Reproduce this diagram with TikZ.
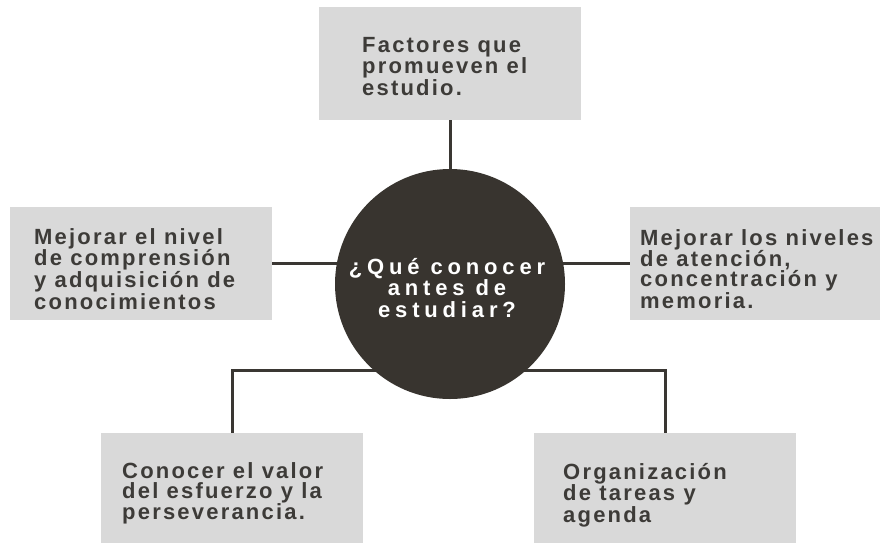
\documentclass[tikz,border=0pt]{standalone}
\usepackage{fontspec}
\newfontfamily\boxfont{Liberation Sans}[LetterSpace=10]
\newfontfamily\circfont{Liberation Sans}[LetterSpace=22]
\usetikzlibrary{backgrounds}
\definecolor{boxgray}{HTML}{D9D9D9}
\definecolor{txtdark}{HTML}{3D3B38}
\definecolor{circdark}{HTML}{38342F}
\definecolor{linedark}{HTML}{3A3733}
\tikzset{
  box/.style={rectangle, fill=boxgray, draw=none, minimum width=262pt, minimum height=113pt, inner sep=0pt},
  boxtext/.style={anchor=north west, inner sep=0pt, align=left, text=txtdark,
    font={\boxfont\bfseries\fontsize{22}{20}\selectfont}},
  hub/.style={circle, fill=circdark, minimum size=230pt, inner sep=0pt},
  hubtext/.style={inner sep=0pt, align=center, text=white,
    font={\circfont\bfseries\fontsize{22}{21.5}\selectfont}},
  conn/.style={draw=linedark, line width=3pt}
}
\begin{document}
\begin{tikzpicture}[x=1pt, y=-1pt]
\useasboundingbox (0,0) rectangle (880,542);
\clip (0,0) rectangle (880,542);
% boxes
\node[box] (top) at (450,63.5) {};
\node[box] (left) at (141,263.5) {};
\node[box] (right) at (761,263.5) {};
\node[box] (ll) at (232,489.5) {};
\node[box] (lr) at (665,489.5) {};
% hub
\node[hub] (hub) at (450,284) {};
\coordinate (junc) at (450,370);
% connectors
\begin{pgfonlayer}{background}
\fill[white] (0,0) rectangle (880,542);
\draw[conn] (top.south) -- (hub.center);
\draw[conn] (left.east) -- (left.east -| hub.center);
\draw[conn] (right.west) -- (right.west -| hub.center);
\draw[conn] (ll.north) |- (junc);
\draw[conn] (lr.north) |- (junc);
\end{pgfonlayer}
% texts
\node[boxtext] (ttop) at (362,37) {Factores que\\promueven el\\estudio.};
\node[boxtext] (tleft) at (34,228) {Mejorar el nivel\\de comprensión\\y adquisición de\\conocimientos};
\node[boxtext] (tright) at (640,229) {Mejorar los niveles\\de atención,\\concentración y\\memoria.};
\node[boxtext] (tll) at (122,462) {Conocer el valor\\del esfuerzo y la\\perseverancia.};
\node[boxtext] (tlr) at (563,463) {Organización\\de tareas y\\agenda};
\node[hubtext] (thub) at (447,288) {¿Qué conocer\\antes de\\estudiar?};
\end{tikzpicture}
\end{document}
